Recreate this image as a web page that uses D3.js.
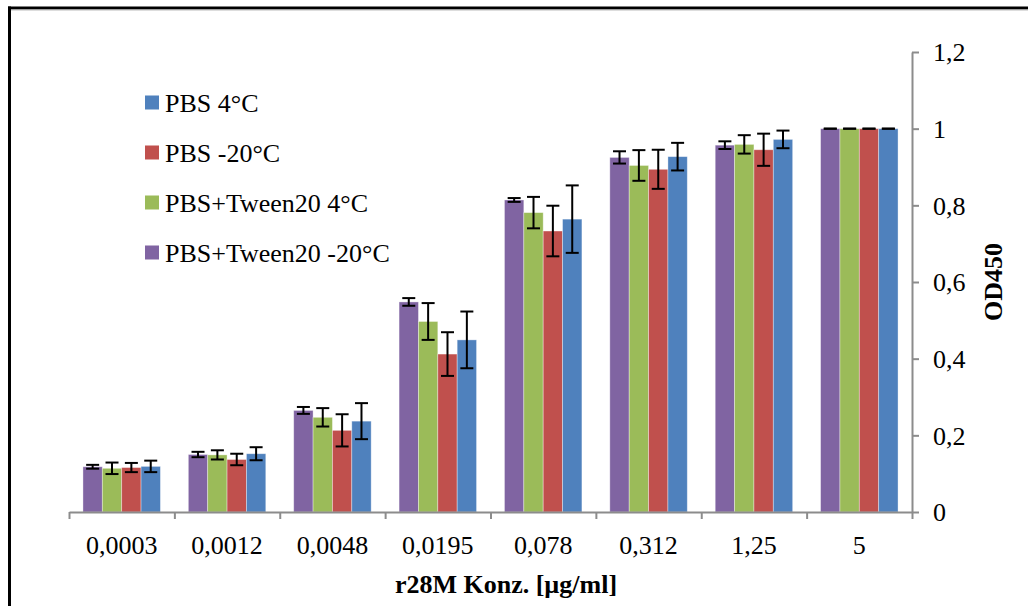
<!DOCTYPE html>
<html>
<head>
<meta charset="utf-8">
<script src="https://cdn.jsdelivr.net/npm/d3@7/dist/d3.min.js"></script>
<style>
  html, body { margin: 0; padding: 0; background: #fff; }
  svg { display: block; }
  text { font-family: "Liberation Serif", "Times New Roman", serif; fill: #000; }
</style>
</head>
<body>
<svg id="chart" width="1028" height="606"></svg>
<script>
// ---- data ----
const categories = ["0,0003", "0,0012", "0,0048", "0,0195", "0,078", "0,312", "1,25", "5"];
const seriesNames = ["PBS+Tween20 -20°C", "PBS+Tween20 4°C", "PBS -20°C", "PBS 4°C"];
const legendNames = ["PBS 4°C", "PBS -20°C", "PBS+Tween20 4°C", "PBS+Tween20 -20°C"];
const seriesColors = ["#8064A2", "#9BBB59", "#C0504D", "#4F81BD"];

const tweenM20 = [0.118, 0.150, 0.265, 0.548, 0.814, 0.925, 0.957, 1.0];
const tweenM20Err = [0.005, 0.007, 0.009, 0.010, 0.005, 0.016, 0.010, 0];
const tween4 = [0.114, 0.149, 0.247, 0.497, 0.781, 0.904, 0.959, 1.0];
const tween4Err = [0.015, 0.012, 0.024, 0.048, 0.041, 0.040, 0.024, 0];
const pbsM20 = [0.116, 0.137, 0.213, 0.412, 0.733, 0.894, 0.945, 1.0];
const pbsM20Err = [0.012, 0.015, 0.042, 0.057, 0.066, 0.051, 0.042, 0];
const pbs4 = [0.119, 0.152, 0.237, 0.449, 0.764, 0.927, 0.972, 1.0];
const pbs4Err = [0.015, 0.017, 0.047, 0.074, 0.088, 0.036, 0.023, 0];

const yTicks = [0, 0.2, 0.4, 0.6, 0.8, 1.0, 1.2];
const xTitle = "r28M Konz. [µg/ml]";
const yTitle = "OD450";

const values = [tweenM20, tween4, pbsM20, pbs4];
const errors = [tweenM20Err, tween4Err, pbsM20Err, pbs4Err];

// ---- layout ----
const svg = d3.select("#chart");
const plotLeft = 69, plotRight = 912, plotTop = 52, plotBottom = 512;
const serif = "'Liberation Serif', 'Times New Roman', serif";

const x0 = d3.scaleBand().domain(categories).range([plotLeft, plotRight])
  .paddingInner(0.265).paddingOuter(0.1325);
const x1 = d3.scaleBand().domain(seriesNames).range([0, x0.bandwidth()]);
const y = d3.scaleLinear().domain([0, 1.2]).range([plotBottom, plotTop]);
const xb = d3.scaleLinear().domain([0, categories.length]).range([plotLeft, plotRight]);

// frame
svg.append("line").attr("x1", 8).attr("x2", 1028).attr("y1", 8).attr("y2", 8)
  .attr("stroke", "#000").attr("stroke-width", 3);
svg.append("line").attr("x1", 8).attr("x2", 1028).attr("y1", 10).attr("y2", 10)
  .attr("stroke", "#bbb").attr("stroke-width", 1);
svg.append("line").attr("x1", 9.5).attr("x2", 9.5).attr("y1", 6.5).attr("y2", 606)
  .attr("stroke", "#000").attr("stroke-width", 3);

// bars
const rows = [];
categories.forEach((c, i) => {
  seriesNames.forEach((s, j) => {
    rows.push({ cat: c, ser: s, v: values[j][i], e: errors[j][i], color: seriesColors[j] });
  });
});

svg.append("g").selectAll("rect").data(rows).join("rect")
  .attr("x", d => x0(d.cat) + x1(d.ser))
  .attr("y", d => y(d.v))
  .attr("width", x1.bandwidth())
  .attr("height", d => y(0) - y(d.v))
  .attr("fill", d => d.color)
  .attr("stroke", "rgba(255,255,255,0.45)")
  .attr("stroke-width", 0.8);

// error bars
const eg = svg.append("g").attr("stroke", "#000").attr("stroke-width", 2);
rows.forEach(d => {
  const cx = x0(d.cat) + x1(d.ser) + x1.bandwidth() / 2;
  const y1 = y(d.v + d.e), y2 = y(d.v - d.e);
  if (d.e > 0) eg.append("line").attr("x1", cx).attr("x2", cx).attr("y1", y1).attr("y2", y2);
  eg.append("line").attr("x1", cx - 6.5).attr("x2", cx + 6.5).attr("y1", y1).attr("y2", y1);
  eg.append("line").attr("x1", cx - 6.5).attr("x2", cx + 6.5).attr("y1", y2).attr("y2", y2);
});

// x axis: boundary ticks
const xAxisG = svg.append("g").attr("transform", `translate(0,${plotBottom})`)
  .call(d3.axisBottom(xb).ticks(categories.length).tickFormat("").tickSize(7).tickSizeOuter(0));
xAxisG.selectAll("path,line").attr("stroke", "#8c8c8c").attr("stroke-width", 2);

// x labels
const xLab = svg.append("g").attr("transform", `translate(0,${plotBottom})`)
  .call(d3.axisBottom(x0).tickSize(0).tickSizeOuter(0));
xLab.select(".domain").remove();
xLab.selectAll("text")
  .attr("y", 41.5).attr("dy", null)
  .style("font-family", serif).style("font-size", "26px").attr("fill", "#000");

// y axis
const yAxisG = svg.append("g").attr("transform", `translate(${plotRight},0)`)
  .call(d3.axisRight(y).tickValues(yTicks).tickSize(7).tickSizeOuter(0).tickPadding(14)
    .tickFormat(d => d3.format(".1~f")(d).replace(".", ",")));
yAxisG.selectAll("path,line").attr("stroke", "#8c8c8c").attr("stroke-width", 2);
yAxisG.selectAll("text")
  .style("font-family", serif).style("font-size", "26px").attr("fill", "#000")
  .attr("dy", "0.34em");

// axis titles
svg.append("text").attr("x", 506).attr("y", 593).attr("text-anchor", "middle")
  .style("font-family", serif).style("font-size", "26px").style("font-weight", "bold").text(xTitle);
svg.append("text").attr("transform", "translate(1002,282) rotate(-90)")
  .attr("text-anchor", "middle")
  .style("font-family", serif).style("font-size", "26px").style("font-weight", "bold").text(yTitle);

// legend
const legendColors = legendNames.map(n => seriesColors[seriesNames.indexOf(n)]);
const lg = svg.append("g");
legendNames.forEach((n, i) => {
  const cy = 102.5 + i * 50;
  lg.append("rect").attr("x", 145).attr("y", cy - 7).attr("width", 14).attr("height", 14)
    .attr("fill", legendColors[i]);
  lg.append("text").attr("x", 165).attr("y", cy + 9)
    .style("font-family", serif).style("font-size", "26px").text(n);
});
</script>
</body>
</html>
